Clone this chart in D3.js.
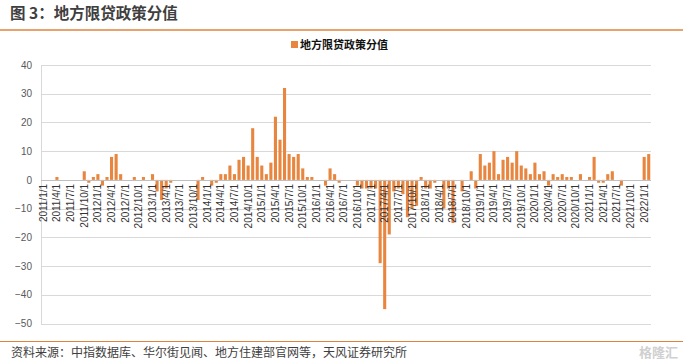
<!DOCTYPE html>
<html><head><meta charset="utf-8">
<script src="https://cdn.jsdelivr.net/npm/d3@7"></script>
<style>
body{margin:0;background:#fff;}
text{font-family:"Noto Sans CJK SC","Liberation Sans",Arial,sans-serif;}
</style></head>
<body><svg id="c" width="683" height="363"></svg>
<script>
const title = "图 3：地方限贷政策分值";
const seriesName = "地方限贷政策分值";
const source = "资料来源：中指数据库、华尔街见闻、地方住建部官网等，天风证券研究所";
// monthly, 2011/1 .. 2022/2
const startYear = 2011, startMonth = 1, monthCount = 134;
const values = [
// 2011
0,0,0,1,0,0,0,0,0,3,-1,1,
// 2012
2,-2,1,8,9,2,0,0,1,0,1,0,
// 2013
2,-4,-7,-3,-1,0,0,0,0,0,-7,1,
// 2014
0,-2,-1,2,2,5,2,7,8,5,18,8,
// 2015
5,2,6,22,14,32,9,8,9,4,1,1,
// 2016
0,0,-2,4,2,-1,0,0,0,-2,-3,-3,
// 2017
-3,-3,-29,-45,-19,-4,-3,-5,-13,-10,-9,1,
// 2018
-3,-3,-1,0,-10,-3,-15,0,-4,0,3,-3,
// 2019
9,5,6,10,2,7,8,6,10,5,4,2,
// 2020
6,2,3,-2,2,1,2,1,1,0,2,0,
// 2021
1,8,-1,-1,2,3,0,-2,0,0,0,0,
// 2022
8,9
];
const yTicks = [40,30,20,10,0,-10,-20,-30,-40,-50];

const months = d3.range(monthCount).map(i=>{
  const m = startMonth - 1 + i;
  return (startYear + Math.floor(m/12)) + "/" + (m%12+1) + "/1";
});

const svg = d3.select("#c");
const L = 41, R = 651, T = 65, B = 323.5;

// title
svg.append("text").attr("x",10).attr("y",19).attr("font-size",15.5).attr("font-weight","bold")
  .attr("fill","#3f3f3f").text(title);
svg.append("line").attr("x1",0).attr("x2",683).attr("y1",30).attr("y2",30)
  .attr("stroke","#E0833E").attr("stroke-width",1.5);

// legend
svg.append("rect").attr("x",291).attr("y",41).attr("width",7).attr("height",7).attr("fill","#E8863F");
svg.append("text").attr("x",300).attr("y",48.5).attr("font-size",11).attr("font-weight","bold")
  .attr("fill","#111").text(seriesName);

const y = d3.scaleLinear().domain([-50,40]).range([B,T]);
const x = d3.scaleBand().domain(months).range([L,R]).paddingInner(0.32).paddingOuter(0.16);

// gridlines
svg.append("g").selectAll("line").data(yTicks).join("line")
  .attr("x1",L).attr("x2",R).attr("y1",d=>Math.round(y(d))+0.5).attr("y2",d=>Math.round(y(d))+0.5)
  .attr("stroke","#d9d9d9").attr("stroke-width",1);
// y axis line
svg.append("line").attr("x1",L+0.5).attr("x2",L+0.5).attr("y1",T).attr("y2",B+0.5)
  .attr("stroke","#d9d9d9");

// y axis labels
const yAxis = d3.axisLeft(y).tickValues(yTicks).tickSize(0).tickPadding(9);
const ya = svg.append("g").attr("transform",`translate(${L},0)`).call(yAxis);
ya.select(".domain").remove();
ya.selectAll("text").attr("font-size",10).attr("fill","#595959")
  .style("font-family","'Liberation Sans',Arial,sans-serif");

// bars
svg.append("g").selectAll("rect").data(values).join("rect")
  .attr("x",(d,i)=>x(months[i]))
  .attr("width",x.bandwidth())
  .attr("y",d=>y(Math.max(0,d)))
  .attr("height",d=>Math.abs(y(d)-y(0)))
  .attr("fill","#E8863F");

// zero line
svg.append("line").attr("x1",L).attr("x2",R).attr("y1",Math.round(y(0))+0.5).attr("y2",Math.round(y(0))+0.5)
  .attr("stroke","#bfbfbf");

// x axis labels, every 3 months
const xAxis = d3.axisBottom(x).tickValues(months.filter((d,i)=>i%3===0)).tickSize(0).tickPadding(0);
const xa = svg.append("g").attr("transform",`translate(0,${y(0)})`).call(xAxis);
xa.select(".domain").remove();
xa.selectAll("text").attr("font-size",10).attr("fill","#333")
  .style("font-family","'Liberation Sans',Arial,sans-serif")
  .attr("transform","rotate(-90)").attr("text-anchor","end")
  .attr("x",-4).attr("y",0).attr("dy","0.35em");

// bottom
svg.append("line").attr("x1",0).attr("x2",683).attr("y1",341.5).attr("y2",341.5)
  .attr("stroke","#E0833E").attr("stroke-width",1.2);
svg.append("text").attr("x",11).attr("y",357).attr("font-size",12)
  .attr("fill","#404040").text(source);
svg.append("text").attr("x",678).attr("y",357).attr("text-anchor","end").attr("font-size",13)
  .attr("font-weight","bold").attr("fill","#d0d0d0").text("格隆汇");
</script></body></html>
